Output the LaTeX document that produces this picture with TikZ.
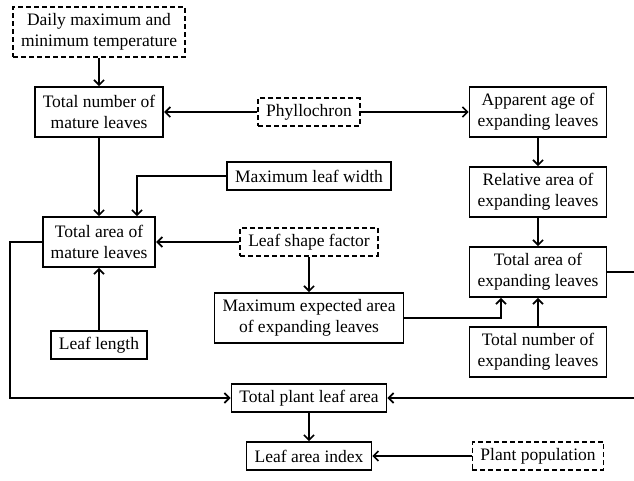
\documentclass[tikz,border=0pt]{standalone}
\usepackage{fontspec}
\setmainfont{Liberation Serif}
\usetikzlibrary{arrows.meta}

\tikzstyle{var} = [rectangle, 
inner xsep=8pt,
inner ysep=6pt,
minimum height=50pt,
align=center,
draw=black, 
line width=1.7pt,
font=\fontsize{17.5}{21}\selectfont]
\tikzstyle{flat} = [minimum height=28pt]
\tikzstyle{input} = [var, 
dash pattern=on 5pt off 3pt]

\begin{document}
\begin{tikzpicture}[x=1pt, y=1pt, node distance=80pt, line width=1.7pt, >={Straight Barb[length=5pt,width=10pt]}]
\useasboundingbox (0,0) rectangle (634,-480);

\node (temp) [input] at (99,-32) {Daily maximum and\\minimum temperature};
\node (matLeaves) [var, below of=temp] {Total number of\\mature leaves};
\node (phyllo) [input, flat, right of=matLeaves, xshift=130pt] {Phyllochron};
\node (appAge) [var, right of=phyllo, xshift=149pt] {Apparent age of\\expanding leaves};
\node (maxWidth) [var, flat, below of=phyllo, yshift=16pt] {Maximum leaf width};
\node (relArea) [var, below of=appAge] {Relative area of\\expanding leaves};
\node (matArea) [var, below of=matLeaves, yshift=-50pt] {Total area of\\mature leaves};
\node (shape) [input, flat, below of=maxWidth, yshift=14pt] {Leaf shape factor};
\node (expArea) [var, below of=relArea] {Total area of\\expanding leaves};
\node (maxExp) [var, below of=shape, yshift=4pt] {Maximum expected area\\of expanding leaves};
\node (leafLen) [var, flat, below of=matArea, yshift=-23pt] {Leaf length};
\node (expNum) [var, below of=expArea] {Total number of\\expanding leaves};
\node (plant) [var, flat, below of=maxExp] {Total plant leaf area};
\node (lai) [var, flat, below of=plant, yshift=22pt] {Leaf area index};
\node (pop) [input, flat, right of=lai, xshift=149pt] {Plant population};

\draw [->] (temp) -- (matLeaves);
\draw [->] (phyllo) -- (matLeaves);
\draw [->] (phyllo) -- (appAge);
\draw [->] (appAge) -- (relArea);
\draw [->] (relArea) -- (expArea);
\draw [->] (matLeaves) -- (matArea);
\draw [->] (maxWidth) -| ([xshift=38pt]matArea.north);
\draw [->] (shape) -- (matArea);
\draw [->] (shape) -- (maxExp);
\draw [->] (leafLen) -- (matArea);
\draw [->] (maxExp) -| ([xshift=-37pt]expArea.south);
\draw [->] (expNum) -- (expArea);
\draw [->] (matArea.west) -- ++(-32pt,0) |- (plant);
\draw [->] (expArea.east) -- ++(32pt,0) |- (plant);
\draw [->] (plant) -- (lai);
\draw [->] (pop) -- (lai);
\end{tikzpicture}
\end{document}
